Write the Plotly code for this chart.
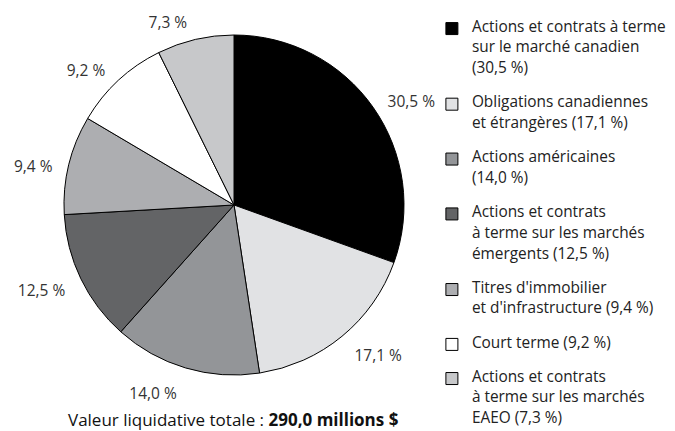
import plotly.graph_objects as go

legend_lines = [
    ["Actions et contrats à terme", "sur le marché canadien", "(30,5 %)"],
    ["Obligations canadiennes", "et étrangères (17,1 %)"],
    ["Actions américaines", "(14,0 %)"],
    ["Actions et contrats", "à terme sur les marchés", "émergents (12,5 %)"],
    ["Titres d'immobilier", "et d'infrastructure (9,4 %)"],
    ["Court terme (9,2 %)"],
    ["Actions et contrats", "à terme sur les marchés", "EAEO (7,3 %)"],
]
values = [30.5, 17.1, 14.0, 12.5, 9.4, 9.2, 7.3]
slice_labels = ["30,5 %", "17,1 %", "14,0 %", "12,5 %", "9,4 %", "9,2 %", "7,3 %"]
colors = ["#000000", "#e1e2e4", "#939598", "#636466", "#adaeb1", "#ffffff", "#c7c8ca"]

FONT = "Open Sans, Noto Sans, sans-serif"
LEG_SIZE = 15.4      # glyph size of legend text
LEG_LINE = 7.98      # half line pitch (legend font size drives line spacing)

def legend_text(lines):
    spans = ["<span style='font-size:%spx'>%s</span>" % (LEG_SIZE, l) for l in lines]
    return "<br><br>".join(spans) + "<br><br>"

legend_labels = [legend_text(l) for l in legend_lines]

fig = go.Figure()

# invisible outer ring used only to place the percentage labels further out
fig.add_trace(go.Pie(
    labels=slice_labels,
    values=values,
    text=slice_labels,
    texttemplate="%{text}",
    textposition="outside",
    textfont=dict(family=FONT, size=15.5, color="#333333"),
    marker=dict(colors=["rgba(0,0,0,0)"] * len(values), line=dict(width=0)),
    sort=False,
    direction="clockwise",
    rotation=0,
    domain=dict(x=[0.066667, 0.602963], y=[0.113689, 0.953596]),
    hoverinfo="skip",
    showlegend=False,
))

fig.add_trace(go.Pie(
    labels=legend_labels,
    values=values,
    textinfo="none",
    marker=dict(colors=colors, line=dict(color="#000000", width=1)),
    sort=False,
    direction="clockwise",
    rotation=0,
    domain=dict(x=[0.082963, 0.586667], y=[0.148492, 0.937355]),
    hoverinfo="skip",
))

fig.add_annotation(
    x=0.3348, y=0.0441, xref="paper", yref="paper",
    text="Valeur liquidative totale : <b>290,0 millions $</b>",
    showarrow=False, font=dict(family=FONT, size=17, color="#111111"),
    xanchor="center", yanchor="middle",
)

fig.update_layout(
    width=675, height=431,
    margin=dict(l=0, r=0, t=0, b=0, autoexpand=False),
    paper_bgcolor="white",
    plot_bgcolor="white",
    font=dict(family=FONT, size=14, color="#222222"),
    legend=dict(
        x=0.628, y=0.9794, xanchor="left", yanchor="top",
        valign="top",
        bgcolor="rgba(0,0,0,0)",
        font=dict(family=FONT, size=LEG_LINE, color="#222222"),
        traceorder="normal",
        itemclick=False,
    ),
    showlegend=True,
)

fig.write_html("out.html")
